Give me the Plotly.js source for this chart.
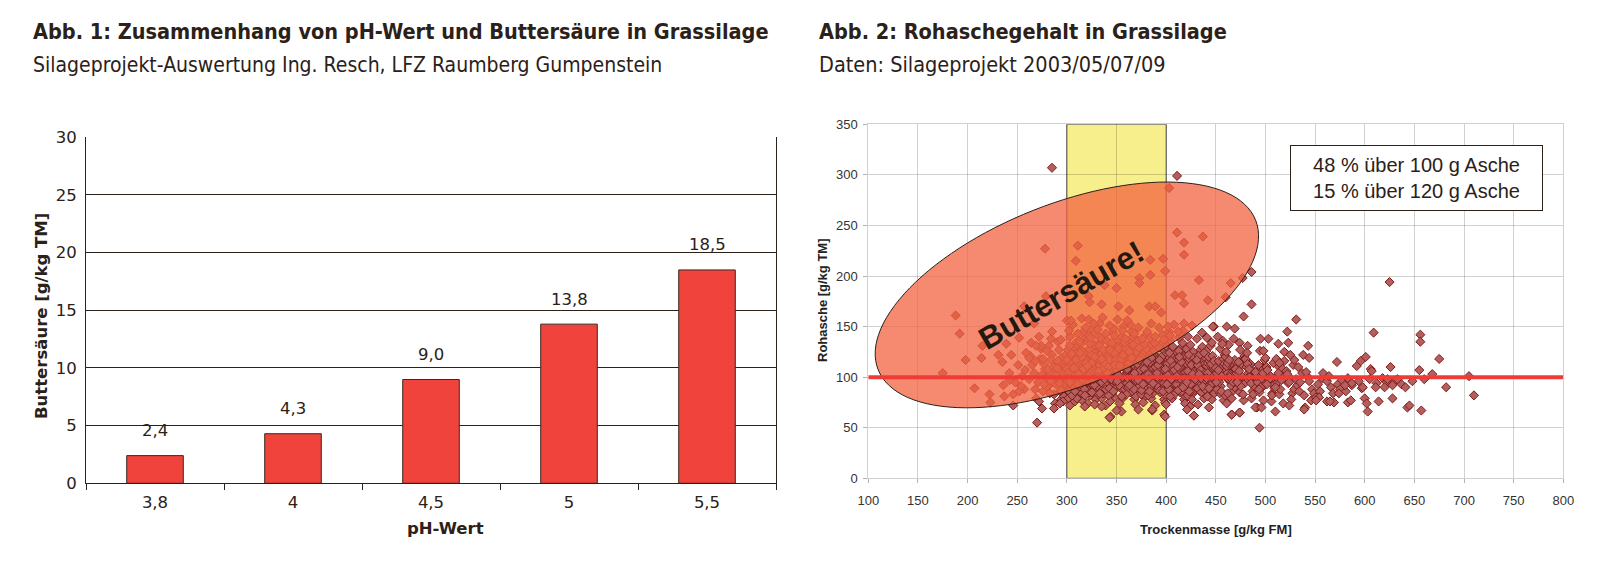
<!DOCTYPE html>
<html>
<head>
<meta charset="utf-8">
<script src="https://cdn.plot.ly/plotly-3.0.1.min.js"></script>
<style>
html,body{margin:0;padding:0;background:#fff;}
#chart{width:1620px;height:567px;}
</style>
</head>
<body>
<div id="chart"></div>
<script>
// ---------- Abb. 1 data ----------
const phKategorien = ['3,8', '4', '4,5', '5', '5,5'];
const buttersaeure = [2.4, 4.3, 9.0, 13.8, 18.5];
const buttersaeureLabels = ['2,4', '4,3', '9,0', '13,8', '18,5'];

// ---------- Abb. 2 data (Trockenmasse [g/kg FM], Rohasche [g/kg TM]) ----------
const punkteAusreisser = [
[285,307],[411,299],[403,287],[278,227],[311,230],[309,215],[397,217],[384,216],[399,205],[411,243],[418,233],[437,239],[418,221],[384,201],[373,198],[373,193],[433,196],[409,181],[416,181],[418,173],[442,176],[350,188],[338,191],[322,180],[323,174],[335,172],[352,170],[363,166],[383,170],[389,170],[395,164],[188,161],[192,143],[215,131],[267,153],[252,139],[274,131],[300,156],[304,156],[322,157],[361,156],[279,180],[257,170],[486,204],[477,198],[465,193],[460,179],[486,172],[478,160],[531,157],[625,194],[609,144],[656,142],[656,135],[522,145],[503,138],[495,138],[513,133],[523,134],[543,131],[448,150],[461,150],[469,148],[402,150],[412,145],[418,153],[447,150],
[175,104],[198,117],[214,119],[207,89],[222,83],[223,75],[231,122],[235,115],[236,92],[237,81],[239,133],[242,104],[244,122],[242,97],[246,83],[252,86],[254,91],[258,107],[262,119],[269,131],[276,118],[285,145],[294,137],[270,55],[275,69],[287,69],[246,72],[294,87],[296,76],[293,74],
[318,71],[328,73],[335,71],[343,60],[350,67],[372,68],[386,68],[399,61],[428,62],[421,68],[494,50],[466,63],[474,65],[490,70],[496,70],[510,66],[524,72],[540,70],[539,68],[569,75],[583,75],[586,77],[562,76],[600,79],[602,74],[603,66],[614,76],[628,79],[641,90],[643,70],[645,72],[657,67],[682,90],[710,82],[675,118],[668,103],[655,107],[626,110],[592,111],[596,116],[601,120],[572,115],[511,118],[514,114],[529,117],[498,126],[519,125],[525,122],[538,122],[544,119],[606,108],[607,106],[620,90],[628,92],[633,98],[623,98],[611,90],[598,90],[587,94],[580,92],[574,84],[565,76],[554,80],[551,77],[705,101]
];
const punkteLinks = [
[262,98],[265,112],[268,88],[263,121],[267,104],[269,79],[271,95],[273,118],[276,86],[278,108],[274,128],[279,99],[272,76],[277,113],[281,91],[283,104],[285,122],[287,83],[289,112],[282,131],[286,97],[288,74],[284,117],[281,108],[289,93],[291,101],[293,86],[295,119],[297,108],[299,93],[292,127],[294,78],[296,113],[298,99],[291,135],[295,88],[299,122],[293,105],[297,81],
[274.8,102],[279.8,91],[283.8,96],[286.8,110],[290.8,116],[292.8,94],[296.8,103],[298.8,111],[288.8,102],[282.8,84],
[255,101],[259,124],[264,134],[268,116],[272,140],[277,93],[280,126],[284,138],[290,109],[251,112],[248,95],[257,88]
];
const punkteKern = [
[300.5,96],[302,112],[303.5,84],[301,127],[305,101],[306.5,118],[304,91],[308,76],[309,134],[300,108],[307,121],[302.5,88],[303,140],[305.5,99],[301.5,79],[306,114],[309.5,106],[308.5,129],[304.5,93],[300,117],[307.5,103],[302,86],[306,95],[308,111],[303,72],
[311,98],[316,115],[313,87],[310.5,124],[318,105],[314,92],[317,138],[312,81],[319,110],[315,101],[311.5,131],[318.5,94],[313,119],[316.5,76],[310,112],[314.5,127],[319,99],[312.5,89],[317,145],[315.5,84],[311,107],[318,96],[313.5,117],[316,103],[319.5,122],[310,79],[314,133],[312,91],
[324,97],[321,118],[327,86],[320.5,108],[328,129],[323,93],[326,113],[329,78],[322,102],[325,121],[321.5,137],[328.5,89],[324.5,104],[327.5,95],[320,116],[323.5,82],[326.5,125],[329.5,99],[322.5,141],[325.5,91],[327,109],[321,74],[324,123],[328,132],[322,87],[326,106],[320.5,96],[329,117],[323,85],[325,148],
[333,99],[336,116],[331,88],[338,107],[334,128],[339,94],[332,121],[335,79],[330,110],[337,103],[333.5,134],[330.5,91],[338.5,119],[336.5,84],[332.5,113],[339.5,101],[334.5,138],[331.5,96],[337.5,125],[335.5,87],[333,112],[339,72],[336,105],[330,142],[338,92],[334,117],[332,83],[337,108],[331,97],[335,123],[333,153],[339,101],
[342,97],[347,119],[344,86],[349,108],[341,127],[346,93],[343,114],[348,80],[345,103],[340,115],[347.5,132],[344.5,90],[341.5,122],[348.5,99],[343.5,76],[346.5,111],[340.5,136],[349.5,95],[342.5,120],[345.5,84],[347,106],[344,129],[341,101],[348,88],[343,117],[346,144],[340,92],[349,109],[342,82],[345,125],[347,148],[344,61],
[353,98],[351,114],[357,87],[355,123],[350,105],[359,91],[352,131],[356,79],[354,110],[358,101],[350.5,120],[355.5,94],[353.5,137],[357.5,83],[351.5,116],[359.5,103],[354.5,89],[352.5,126],[356.5,97],[358.5,112],[353,74],[350,107],[357,95],[355,140],[359,85],[351,119],[356,100],[354,113],[358,88],[352,128],[355,66],[357,150],
[362,96],[367,117],[364,85],[361,106],[369,126],[365,92],[363,112],[368,78],[366,101],[360,121],[364.5,134],[361.5,89],[367.5,110],[363.5,97],[369.5,81],[362.5,118],[366.5,140],[360.5,94],[368.5,124],[365.5,86],[363,107],[367,128],[361,99],[369,73],[364,114],[366,103],[362,90],[368,116],[360,83],[365,145],[363,130],[369,104],
[374,99],[371,115],[377,84],[373,107],[379,127],[375,93],[370,120],[378,80],[372,109],[376,102],[374.5,131],[370.5,92],[377.5,118],[372.5,87],[378.5,112],[375.5,100],[371.5,136],[373.5,96],[376.5,123],[379.5,85],[374,110],[377,75],[371,104],[379,141],[372,90],[376,116],[375,83],[373,106],[378,95],[370,125],
[383,97],[386,113],[381,86],[388,105],[384,124],[389,92],[382,118],[385,79],[380,108],[387,101],[383.5,132],[380.5,90],[388.5,121],[386.5,84],[382.5,111],[389.5,99],[384.5,139],[381.5,95],[387.5,115],[385.5,88],[383,107],[389,72],[386,102],[380,128],[388,93],[384,114],[382,82],[387,109],[381,98],[386,67],
[392,98],[397,116],[394,85],[391,107],[399,125],[395,91],[393,113],[398,78],[396,103],[390,120],[394.5,133],[391.5,89],[397.5,110],[393.5,96],[399.5,82],[392.5,119],[396.5,142],[390.5,94],[398.5,122],[395.5,87],[393,106],[397,127],[391,100],[399,75],[394,115],[396,104],[392,88],[398,112],[390,92],[398,63],
[403,97],[401,114],[407,84],[405,106],[400,123],[409,92],[402,117],[406,79],[404,108],[408,101],[400.5,130],[405.5,90],[403.5,119],[407.5,86],[401.5,111],[409.5,98],[404.5,136],[402.5,95],[406.5,121],[408.5,83],[403,109],[400,73],[407,103],[405,127],[409,93],[401,113],[404,81],[406,104],[402,99],[403,145],
[412,96],[417,115],[414,85],[411,104],[419,122],[415,90],[413,111],[418,78],[416,101],[410,118],[414.5,129],[411.5,88],[417.5,108],[413.5,95],[419.5,81],[412.5,117],[416.5,134],[410.5,93],[418.5,113],[415.5,86],[413,106],[417,125],[411,99],[419,74],[414,110],[416,102],[412,87],[418,121],
[423,97],[421,113],[427,84],[425,105],[420,121],[429,91],[422,116],[426,78],[424,102],[428,108],[420.5,128],[425.5,89],[423.5,118],[427.5,94],[421.5,82],[429.5,111],[424.5,132],[422.5,96],[426.5,110],[428.5,87],[424,71],[420,103],[427,125],[422,99],[428,62],[425,86],
[432,98],[437,112],[434,86],[431,104],[439,120],[435,92],[433,115],[438,79],[436,101],[430,108],[434.5,127],[431.5,89],[437.5,117],[433.5,95],[439.5,83],[432.5,109],[436.5,130],[430.5,97],[438.5,113],[435.5,85],[432,73],[437,123],[434,101],[439,88],
[443,96],[441,111],[447,85],[445,103],[440,119],[449,90],[442,114],[446,78],[444,100],[448,107],[440.5,126],[445.5,88],[443.5,116],[447.5,94],[441.5,81],[449.5,108],[444.5,131],[442.5,97],[446.5,112],[448.5,84],[443,70],[447,101]
];
const punkteKernDicht = [
[301.2,104],[304.8,123],[307.8,90],[302.8,131],[309.2,117],[305.2,82],[300.8,99],[306.8,109],[303.2,95],[308.2,86],
[311.8,103],[314.8,120],[317.8,88],[312.8,135],[319.2,114],[315.2,97],[310.8,93],[316.8,108],[313.2,124],[318.2,82],
[321.8,101],[324.8,114],[327.8,92],[322.8,128],[329.2,106],[325.2,85],[320.8,111],[326.8,98],[323.2,133],[328.2,120],
[331.8,106],[334.8,95],[337.8,114],[332.8,131],[339.2,88],[335.2,118],[330.8,100],[336.8,127],[333.2,84],[338.2,98],
[341.8,110],[344.8,98],[347.8,124],[342.8,89],[349.2,117],[345.2,134],[340.8,104],[346.8,86],[343.2,127],[348.2,112],
[351.8,102],[354.8,118],[357.8,109],[352.8,92],[359.2,129],[355.2,81],[350.8,96],[356.8,122],[353.2,111],[358.2,134],
[361.8,113],[364.8,100],[367.8,88],[362.8,125],[369.2,97],[365.2,119],[360.8,108],[366.8,132],[363.2,92],[368.2,104],
[371.8,97],[374.8,120],[377.8,108],[372.8,129],[379.2,102],[375.2,87],[370.8,113],[376.8,93],[373.2,117],[378.2,133],
[381.8,103],[384.8,91],[387.8,126],[382.8,98],[389.2,110],[385.2,119],[380.8,115],[386.8,94],[383.2,86],[388.2,134],
[391.8,112],[394.8,101],[397.8,94],[392.8,129],[399.2,108],[395.2,120],[390.8,104],[396.8,86],[393.2,117],[398.2,100],
[401.8,102],[404.8,116],[407.8,111],[402.8,88],[409.2,126],[405.2,98],[400.8,93],[406.8,130],[403.2,124],[408.2,107],
[411.8,110],[414.8,98],[417.8,93],[412.8,126],[419.2,105],[415.2,115],[410.8,101],[416.8,90],[413.2,120],[418.2,99],
[421.8,106],[424.8,93],[427.8,115],[422.8,122],[429.2,98],[425.2,112],[420.8,95],[426.8,103],[423.2,86],[428.2,119],
[431.8,112],[434.8,107],[437.8,96],[432.8,121],[439.2,104],[435.2,99],[430.8,117],[436.8,91],[433.2,103],[438.2,124],
[441.8,104],[444.8,92],[447.8,109],[442.8,120],[449.2,98],[445.2,113],[440.8,99],[446.8,121],[443.2,89],[448.2,116],
[451.8,101],[454.8,115],[457.8,104],[452.8,92],[459.2,109],[461.8,104],[464.8,111],[467.8,101],[462.8,97],[469.2,117],
[471.8,109],[474.8,99],[477.8,119],[472.8,90],[479.2,94],[481.8,103],[484.8,113],[487.8,96],[491.8,97],[494.8,107],
[497.8,91],[502.8,103],[505.8,94],[512.8,111],[515.8,102],
[302,146],[306,152],[311,143],[315,158],[319,149],[324,139],[327,153],[331,147],[336,159],[339,143],[343,151],[348,141],[351,157],[356,146],[359,138],[364,152],[368,143],[372,149],[376,138],[381,145],[385,153],[389,140],[393,149],[398,137],[404,141],[408,152],[413,139],[417,146],[422,140],[426,151],[431,138],[436,144],[441,139],[446,134],[452,140],[457,136],[463,132],[468,138],[474,134],[482,131]
];
const punkteRechts = [
[452,97],[457,112],[454,84],[451,104],[459,122],[455,91],[453,116],[458,77],[456,101],[450,109],[454.5,128],[451.5,88],[457.5,118],[453.5,95],[459.5,82],[452.5,107],[456.5,133],[450.5,95],[458.5,113],[455.5,86],
[463,98],[461,111],[467,86],[465,103],[460,120],[469,90],[462,114],[466,79],[464,100],[468,107],[460.5,125],[465.5,92],[463.5,117],[467.5,95],[466,63],[462,84],[469,108],[461,74],
[472,96],[477,112],[474,85],[471,104],[479,121],[475,91],[473,115],[478,77],[476,101],[470,108],[474.5,127],[471.5,95],[477.5,83],[473.5,106],[474,65],[479,118],
[483,97],[481,110],[487,86],[485,102],[480,118],[489,91],[482,113],[486,79],[484,100],[488,106],[481.5,124],[485.5,94],[487.5,83],[483.5,108],
[492,95],[497,109],[494,85],[491,101],[499,117],[495,90],[493,112],[498,77],[496,99],[490,105],[494.5,126],[491.5,70],[497.5,104],[493.5,88],
[503,96],[501,110],[507,84],[505,101],[500,119],[509,89],[502,107],[506,76],[504,98],[508,114],[501.5,93],[506.5,82],
[512,95],[517,108],[514,83],[511,100],[519,116],[515,88],[513,104],[518,74],[516,97],[510,90],
[523,94],[521,106],[527,84],[525,99],[529,88],[522,103],[526,78],[524,95],[528,112],
[532,92],[537,104],[534,86],[531,98],[539,82],[535,95],[533,110],
[542,101],[547,88],[544,96],[549,84],[541,105],[546,77],
[553,93],[557,99],[555,86],[558,104],[551,80],
[562,96],[566,90],[564,101],[568,84],[573,93],[577,97],[575,88],[583,99],[587,92],[581,86],[594,96],[597,89],
[605,98],[612,94],[618,99],[622,95],[631,97],[637,93],[648,96],[660,98]
];
const hinweisText = ['48 % über 100 g Asche', '15 % über 120 g Asche'];

// ---------- geometry helpers (pixel layout) ----------
const W = 1620, H = 567;
const px = v => v / W;
const py = v => 1 - v / H;
const L1 = {x0: 86, x1: 776, y0: 137.3, y1: 483.3};
const L2 = {x0: 868.3, x1: 1563.3, y0: 124.3, y1: 478.3};
const xRange2 = [100, 800], yRange2 = [0, 350];

const ink = '#2b2118';
const titleFont = 'DejaVu Sans Condensed, DejaVu Sans, sans-serif';
const numFont = 'DejaVu Sans, Verdana, sans-serif';
const arial = 'Liberation Sans, Arial, sans-serif';

const allPts = punkteLinks.concat(punkteKern, punkteKernDicht, punkteRechts, punkteAusreisser);
const tmX = allPts.map(p => p[0]);
const raY = allPts.map(p => p[1]);

// Ellipse ("Buttersäure!" zone): centre in data units, half-axes in pixels, rotation in degrees
const ell = {cx: 300, cy: 181.3, a: 203, b: 91, rot: 21.6};
const pxPerX = (L2.x1 - L2.x0) / (xRange2[1] - xRange2[0]);
const pxPerY = (L2.y1 - L2.y0) / (yRange2[1] - yRange2[0]);
let ellPath = '';
{
  const th = ell.rot * Math.PI / 180;
  const n = 120;
  for (let i = 0; i <= n; i++) {
    const t = 2 * Math.PI * i / n;
    const dx = ell.a * Math.cos(t) * Math.cos(th) - ell.b * Math.sin(t) * Math.sin(th);
    const dy = ell.a * Math.cos(t) * Math.sin(th) + ell.b * Math.sin(t) * Math.cos(th);
    const X = ell.cx + dx / pxPerX, Y = ell.cy + dy / pxPerY;
    ellPath += (i === 0 ? 'M' : 'L') + X.toFixed(2) + ',' + Y.toFixed(2);
  }
  ellPath += 'Z';
}

const traces = [
  {
    type: 'bar', x: phKategorien, y: buttersaeure, xaxis: 'x', yaxis: 'y',
    marker: {color: '#ef433c', line: {color: '#3a2a20', width: 1}},
    hoverinfo: 'skip', showlegend: false
  },
  {
    type: 'scatter', mode: 'markers', x: tmX, y: raY, xaxis: 'x2', yaxis: 'y2',
    marker: {symbol: 'diamond', size: 7, color: '#b45e5e', line: {color: '#7e1c1a', width: 1}},
    hoverinfo: 'skip', showlegend: false
  }
];

const annotations = [
  {xref: 'paper', yref: 'paper', x: px(31), y: py(31), xanchor: 'left', yanchor: 'middle', showarrow: false,
   text: 'Abb. 1: Zusammenhang von pH-Wert und Buttersäure in Grassilage',
   font: {family: titleFont, size: 21.5, color: ink, weight: 'bold', stretch: 'condensed'}},
  {xref: 'paper', yref: 'paper', x: px(31), y: py(65), xanchor: 'left', yanchor: 'middle', showarrow: false,
   text: 'Silageprojekt-Auswertung Ing. Resch, LFZ Raumberg Gumpenstein',
   font: {family: titleFont, size: 21, color: ink, stretch: 'condensed'}},
  {xref: 'paper', yref: 'paper', x: px(817), y: py(31), xanchor: 'left', yanchor: 'middle', showarrow: false,
   text: 'Abb. 2: Rohaschegehalt in Grassilage',
   font: {family: titleFont, size: 21.5, color: ink, weight: 'bold', stretch: 'condensed'}},
  {xref: 'paper', yref: 'paper', x: px(817), y: py(65), xanchor: 'left', yanchor: 'middle', showarrow: false,
   text: 'Daten: Silageprojekt 2003/05/07/09',
   font: {family: titleFont, size: 21.5, color: ink, stretch: 'condensed'}},
  // axis titles, chart 1
  {xref: 'paper', yref: 'paper', x: px(41), y: py(316), xanchor: 'center', yanchor: 'middle', showarrow: false,
   textangle: -90, text: 'Buttersäure [g/kg TM]',
   font: {family: numFont, size: 16.5, color: ink, weight: 'bold'}},
  {xref: 'paper', yref: 'paper', x: px(445), y: py(528), xanchor: 'center', yanchor: 'middle', showarrow: false,
   text: 'pH-Wert', font: {family: numFont, size: 16.5, color: ink, weight: 'bold'}},
  // axis titles, chart 2
  {xref: 'paper', yref: 'paper', x: px(822), y: py(300), xanchor: 'center', yanchor: 'middle', showarrow: false,
   textangle: -90, text: 'Rohasche [g/kg TM]',
   font: {family: arial, size: 13, color: '#222', weight: 'bold'}},
  {xref: 'paper', yref: 'paper', x: px(1216), y: py(529), xanchor: 'center', yanchor: 'middle', showarrow: false,
   text: 'Trockenmasse [g/kg FM]',
   font: {family: arial, size: 13, color: '#222', weight: 'bold'}},
  // ellipse label
  {xref: 'x2', yref: 'y2', x: 294, y: 181, xanchor: 'center', yanchor: 'middle', showarrow: false,
   textangle: -30, text: 'Buttersäure!',
   font: {family: arial, size: 31, color: '#23190e', weight: 'bold'}},
  // info box
  {xref: 'paper', yref: 'paper', x: px(1416.5), y: py(178), xanchor: 'center', yanchor: 'middle', showarrow: false,
   text: hinweisText.join('<br>'), align: 'center',
   width: 243, height: 56, borderpad: 4, borderwidth: 1, bordercolor: ink, bgcolor: '#ffffff',
   font: {family: arial, size: 20, color: ink}}
];
// bar value labels (positioned through the category index and the value axis)
phKategorien.forEach((c, i) => {
  annotations.push({xref: 'x', yref: 'y', x: i, y: buttersaeure[i], yshift: 25,
    xanchor: 'center', yanchor: 'middle', showarrow: false, text: buttersaeureLabels[i],
    font: {family: numFont, size: 16.5, color: ink}});
});

const layout = {
  width: W, height: H,
  margin: {l: 0, r: 0, t: 0, b: 0, pad: 0},
  paper_bgcolor: '#ffffff', plot_bgcolor: '#ffffff',
  showlegend: false,
  bargap: 0.59,
  xaxis: {
    domain: [px(L1.x0), px(L1.x1)], anchor: 'y', type: 'category', range: [-0.5, 4.5], autorange: false,
    tickson: 'boundaries', ticks: 'outside', ticklen: 6, tickcolor: ink, tickwidth: 1,
    showline: true, linecolor: ink, linewidth: 1, showgrid: false, zeroline: false,
    tickfont: {family: numFont, size: 16.5, color: ink}, ticklabelstandoff: 4, fixedrange: true
  },
  yaxis: {
    domain: [py(L1.y1), py(L1.y0)], anchor: 'x', range: [0, 30], dtick: 5,
    showline: true, mirror: true, linecolor: ink, linewidth: 1,
    showgrid: true, gridcolor: ink, gridwidth: 1, zeroline: false, ticks: '',
    tickfont: {family: numFont, size: 16.5, color: ink}, ticklabelstandoff: 5, fixedrange: true
  },
  xaxis2: {
    domain: [px(L2.x0), px(L2.x1)], anchor: 'y2', range: xRange2, dtick: 50, tick0: 100,
    showline: true, mirror: true, linecolor: 'rgba(0,0,0,0.18)', linewidth: 1,
    showgrid: true, gridcolor: 'rgba(0,0,0,0.18)', gridwidth: 1, zeroline: false,
    ticks: 'outside', ticklen: 4, tickcolor: 'rgba(0,0,0,0.3)',
    tickfont: {family: arial, size: 13, color: '#333'}, ticklabelstandoff: 6, fixedrange: true
  },
  yaxis2: {
    domain: [py(L2.y1), py(L2.y0)], anchor: 'x2', range: yRange2, dtick: 50,
    showline: true, mirror: true, linecolor: 'rgba(0,0,0,0.18)', linewidth: 1,
    showgrid: true, gridcolor: 'rgba(0,0,0,0.18)', gridwidth: 1, zeroline: false,
    ticks: 'outside', ticklen: 4, tickcolor: 'rgba(0,0,0,0.3)',
    tickfont: {family: arial, size: 13, color: '#333'}, ticklabelstandoff: 3, fixedrange: true
  },
  shapes: [
    {type: 'rect', xref: 'x2', yref: 'y2', x0: 300, x1: 400, y0: 0, y1: 350,
     fillcolor: '#f7ee8c', line: {color: '#555', width: 1}, layer: 'below'},
    {type: 'path', xref: 'x2', yref: 'y2', path: ellPath,
     fillcolor: 'rgba(242,99,64,0.75)', line: {color: ink, width: 1}, layer: 'above'},
    {type: 'line', xref: 'x2', yref: 'y2', x0: 100, x1: 800, y0: 100, y1: 100,
     line: {color: '#ef3b36', width: 4}, layer: 'above'}
  ],
  annotations: annotations
};

Plotly.newPlot('chart', traces, layout, {staticPlot: true, displayModeBar: false});
</script>
</body>
</html>
